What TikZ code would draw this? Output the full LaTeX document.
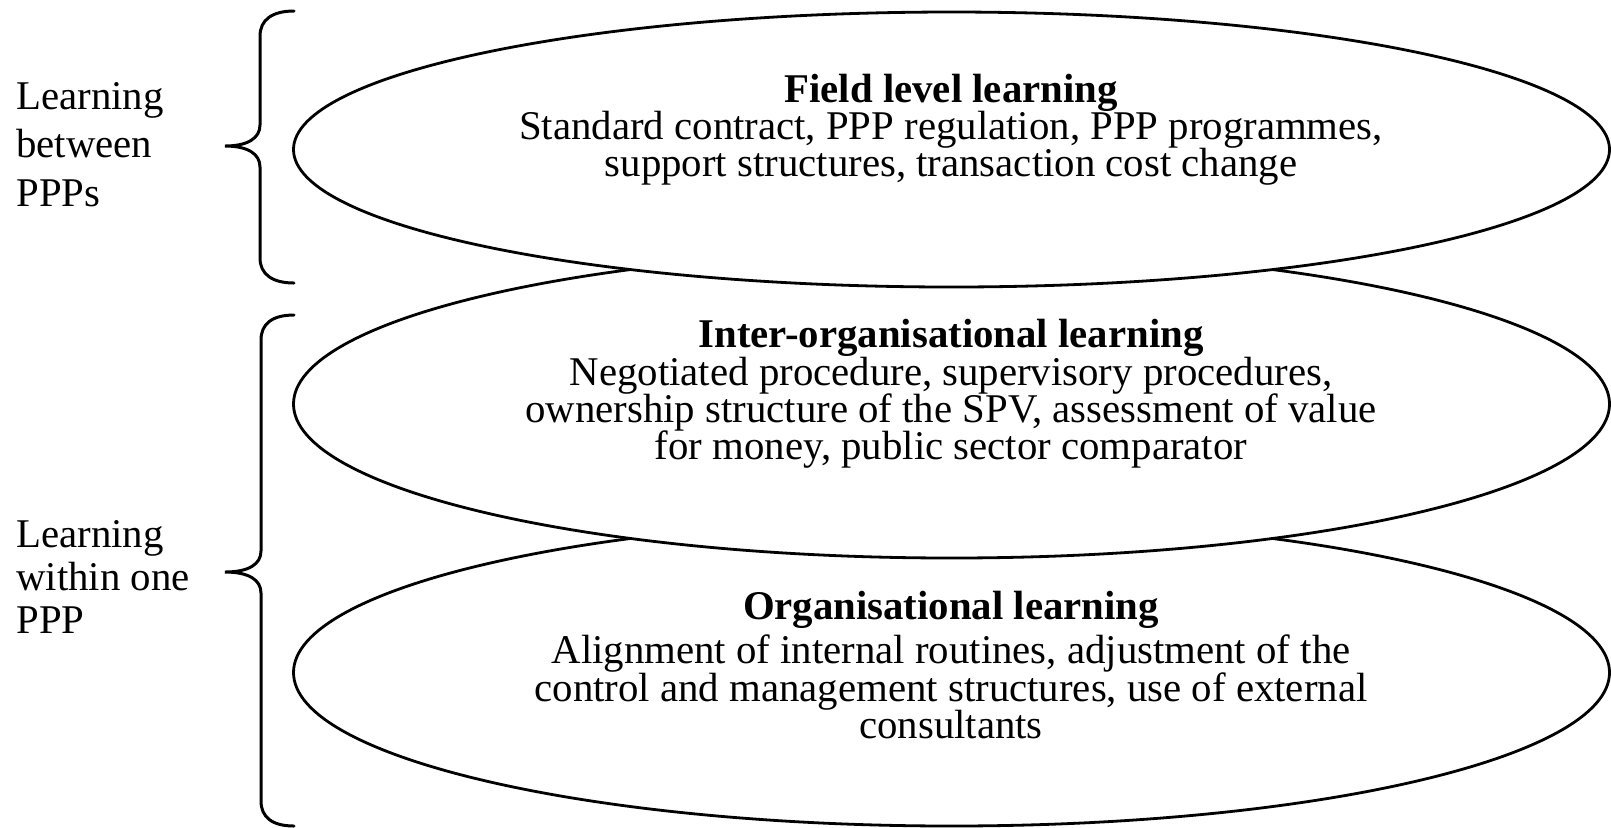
\documentclass[tikz,border=0pt]{standalone}
\usepackage{fontspec}
\setmainfont{Liberation Serif}
\usetikzlibrary{shapes.geometric}
\tikzset{
  ell/.style={ellipse, draw, line width=1.4pt, fill=white, inner sep=0pt, minimum width=658pt},
  bracepath/.style={line width=1.5pt, line cap=round},
  txt/.style={font=\fontsize{20.4}{20}\selectfont, inner sep=0pt, anchor=base},
  ttl/.style={txt, font=\fontsize{20.4}{20}\selectfont\bfseries},
  lbl/.style={txt, anchor=base west}
}
\begin{document}
\begin{tikzpicture}[x=0.5pt,y=-0.5pt]
\useasboundingbox (0,0) rectangle (1611,827);
% ellipses (bottom first so upper ones overlap)
\node[ell, minimum height=153.5pt] (e3) at (951.5,672.5) {};
\node[ell, minimum height=154pt] (e2) at (951.5,404) {};
\node[ell, minimum height=137.5pt] (e1) at (951.5,149.5) {};
% ellipse 1 text
\node[ttl] (t1) at (951,102) {Field level learning};
\node[txt] (t1a) at (951,139) {Standard contract, PPP regulation, PPP programmes,};
\node[txt] (t1b) at (951,176) {support structures, transaction cost change};
% ellipse 2 text
\node[ttl] (t2) at (951,347) {Inter-organisational learning};
\node[txt] (t2a) at (951,385) {Negotiated procedure, supervisory procedures,};
\node[txt] (t2b) at (951,422) {ownership structure of the SPV, assessment of value};
\node[txt] (t2c) at (951,459) {for money, public sector comparator};
% ellipse 3 text
\node[ttl] (t3) at (951,619) {Organisational learning};
\node[txt] (t3a) at (951,663) {Alignment of internal routines, adjustment of the};
\node[txt] (t3b) at (951,701) {control and management structures, use of external};
\node[txt] (t3c) at (951,738) {consultants};
% left labels
\node[lbl] (l1a) at (16,109) {Learning};
\node[lbl] (l1b) at (16,157) {between};
\node[lbl] (l1c) at (16,206) {PPPs};
\node[lbl] (l2a) at (16,547) {Learning};
\node[lbl] (l2b) at (16,590) {within one};
\node[lbl] (l2c) at (16,633) {PPP};
% braces
\coordinate (b1t) at (294,11);
\coordinate (b1m) at (225,146);
\coordinate (b1b) at (294,283);
\draw[bracepath] (b1t) .. controls (272,11) and (260,20) .. (260,36) -- (260,125)
  .. controls (260,138) and (248,146) .. (b1m)
  .. controls (248,146) and (260,154) .. (260,167) -- (260,258)
  .. controls (260,274) and (272,283) .. (b1b);
\coordinate (b2t) at (294,315);
\coordinate (b2m) at (225,572);
\coordinate (b2b) at (294,826);
\draw[bracepath] (b2t) .. controls (272,315) and (261,324) .. (261,340) -- (261,551)
  .. controls (261,564) and (249,572) .. (b2m)
  .. controls (249,572) and (261,580) .. (261,593) -- (261,801)
  .. controls (261,817) and (272,826) .. (b2b);
\end{tikzpicture}
\end{document}
